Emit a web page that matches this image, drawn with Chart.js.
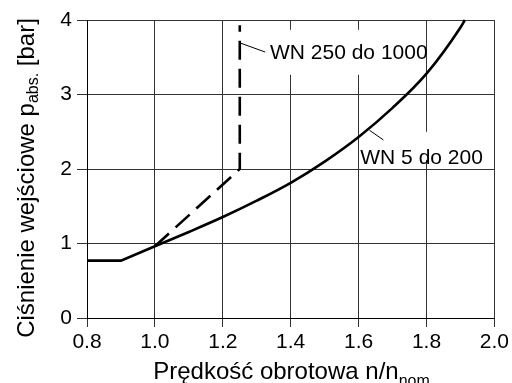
<!DOCTYPE html>
<html>
<head>
<meta charset="utf-8">
<script src="https://cdn.jsdelivr.net/npm/chart.js@4"></script>
<style>
  html, body { margin: 0; padding: 0; background: #fff; }
</style>
</head>
<body>
<canvas id="chart" width="512" height="383"></canvas>
<script>
// axis ranges / ticks
const xMin = 0.8, xMax = 2.0, xStep = 0.2;
const yMin = 0, yMax = 4, yStep = 1;

// WN 5 do 200 (solid): flat start + knee, then the rising curve
const lowX = [0.8, 0.9, 1.0];
const lowY = [0.77, 0.77, 0.963];
const curveX = [1.0, 1.1, 1.2, 1.3, 1.4, 1.5, 1.6, 1.7, 1.8, 1.9, 1.913];
const curveY = [0.963, 1.155, 1.355, 1.575, 1.815, 2.10, 2.43, 2.82, 3.28, 3.90, 4.0];

// WN 250 do 1000 (dashed)
const dashX = [1.0, 1.25, 1.25];
const dashY = [0.963, 2.0, 3.93];

// curve labels with leader lines (data coords)
const labelText = ['WN 250 do 1000', 'WN 5 do 200'];
const labelAt = [[1.339, 3.56], [1.605, 2.15]];
const leaderFrom = [[1.252, 3.69], [1.632, 2.52]];
const leaderTo = [[1.325, 3.57], [1.673, 2.39]];

const FONT = '"Liberation Sans", Arial, Helvetica, sans-serif';
const FS = 21;
const toPts = (xs, ys) => xs.map((x, i) => ({ x, y: ys[i] }));

// white box behind the labels, then leaders + text
const labelsPlugin = {
  id: 'labels',
  beforeDatasetsDraw(chart) {
    const { ctx, scales: { x, y } } = chart;
    ctx.save();
    ctx.font = FS + 'px ' + FONT;
    ctx.fillStyle = '#fff';
    labelText.forEach((t, i) => {
      const px = x.getPixelForValue(labelAt[i][0]);
      const py = y.getPixelForValue(labelAt[i][1]);
      const w = ctx.measureText(t).width;
      if (i === 0) ctx.fillRect(px - 2, py - 23, w - 8, 45);
      else ctx.fillRect(px - 1, py - 26, w, 28);
    });
    ctx.restore();
  },
  afterDatasetsDraw(chart) {
    const { ctx, scales: { x, y } } = chart;
    ctx.save();
    ctx.strokeStyle = '#000';
    ctx.lineWidth = 1;
    leaderFrom.forEach((p, i) => {
      ctx.beginPath();
      ctx.moveTo(x.getPixelForValue(p[0]), y.getPixelForValue(p[1]));
      ctx.lineTo(x.getPixelForValue(leaderTo[i][0]), y.getPixelForValue(leaderTo[i][1]));
      ctx.stroke();
    });
    ctx.font = FS + 'px ' + FONT;
    ctx.fillStyle = '#000';
    ctx.textBaseline = 'middle';
    labelText.forEach((t, i) => {
      ctx.fillText(t, x.getPixelForValue(labelAt[i][0]), y.getPixelForValue(labelAt[i][1]));
    });
    ctx.restore();
  },
  afterDraw(chart) {
    const { ctx, chartArea } = chart;
    ctx.save();
    ctx.fillStyle = '#000';
    ctx.textBaseline = 'alphabetic';
    // x title with subscript
    const big = '24px ' + FONT, small = '16px ' + FONT;
    const xa = 'Prędkość obrotowa n/n', xs = 'nom.';
    ctx.font = big; const w1 = ctx.measureText(xa).width;
    ctx.font = small; const w2 = ctx.measureText(xs).width;
    const cx = (chartArea.left + chartArea.right) / 2 + 3;
    let sx = cx - (w1 + w2) / 2;
    ctx.font = big; ctx.fillText(xa, sx, 379);
    ctx.font = small; ctx.fillText(xs, sx + w1, 386);
    // y title with subscript (rotated)
    ctx.translate(34, 178);
    ctx.rotate(-Math.PI / 2);
    const ya = 'Ciśnienie wejściowe p', ys = 'abs.', yb = ' [bar]';
    ctx.font = big; const a1 = ctx.measureText(ya).width, a3 = ctx.measureText(yb).width;
    ctx.font = small; const a2 = ctx.measureText(ys).width;
    let s = -(a1 + a2 + a3) / 2;
    ctx.font = big; ctx.fillText(ya, s, 0);
    ctx.font = small; ctx.fillText(ys, s + a1, 4);
    ctx.font = big; ctx.fillText(yb, s + a1 + a2, 0);
    ctx.restore();
  }
};

new Chart(document.getElementById('chart').getContext('2d'), {
  type: 'scatter',
  data: {
    datasets: [
      { data: toPts(lowX, lowY), showLine: true, borderColor: '#000', borderWidth: 2.6, pointRadius: 0, tension: 0 },
      { data: toPts(curveX, curveY), showLine: true, borderColor: '#000', borderWidth: 2.6, pointRadius: 0, cubicInterpolationMode: 'monotone' },
      { data: toPts(dashX, dashY), showLine: true, borderColor: '#000', borderWidth: 2.6, borderDash: [19, 9], pointRadius: 0, tension: 0 }
    ]
  },
  options: {
    responsive: false,
    devicePixelRatio: 1,
    animation: false,
    clip: false,
    layout: { padding: { top: 20, right: 14, left: 0, bottom: 0 } },
    plugins: { legend: { display: false }, tooltip: { enabled: false } },
    scales: {
      x: {
        type: 'linear', min: xMin, max: xMax,
        afterFit: s => { s.height = 65; },
        ticks: { stepSize: xStep, color: '#000', font: { size: FS, family: FONT }, padding: 3, maxRotation: 0,
                 callback: v => v.toFixed(1) },
        grid: { color: '#333', lineWidth: 1, tickLength: 9 },
        border: { color: '#000', width: 1 }
      },
      y: {
        min: yMin, max: yMax,
        afterFit: s => { s.width = 87; },
        ticks: { stepSize: yStep, color: '#000', font: { size: FS, family: FONT }, padding: 5 },
        grid: { color: '#333', lineWidth: 1, tickLength: 10 },
        border: { color: '#000', width: 1 }
      }
    }
  },
  plugins: [labelsPlugin]
});
</script>
</body>
</html>
